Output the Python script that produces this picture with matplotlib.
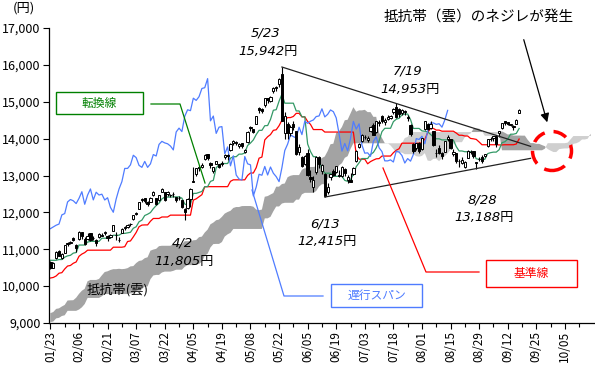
import numpy as np
import pandas as pd
import matplotlib
matplotlib.use('Agg')
import matplotlib.pyplot as plt
from matplotlib.patches import Rectangle, Ellipse
from matplotlib.lines import Line2D

plt.rcParams['font.family'] = ['Noto Sans CJK JP', 'DejaVu Sans']

# trading calendar (TSE 2013)
holidays = ['2013-02-11', '2013-03-20', '2013-04-29', '2013-05-03',
            '2013-05-06', '2013-07-15', '2013-09-16']
dates = pd.bdate_range('2013-01-23', '2013-09-19', freq='C', holidays=holidays)
future_labels = ['09/25', '10/05']

# Nikkei 225 daily OHLC, 2013/01/23 - 2013/09/19
opens = [10650, 10500, 10770, 10950, 10760, 10900, 11170, 11160, 11300, 11120,
         11280, 11470, 11280, 11280, 11450, 11300, 11250, 11330, 11400, 11450,
         11360, 11320, 11500, 11400, 11250, 11450, 11570, 11590, 11690, 11820,
         11970, 12100, 12350, 12380, 12270, 12280, 12470, 12380, 12330, 12560,
         12550, 12490, 12480, 12490, 12420, 12380, 12330, 12080, 12130, 12360,
         12850, 13050, 13240, 13230, 13450, 13570, 13340, 13120, 13320, 13300,
         13340, 13500, 13560, 13700, 13880, 13920, 13800, 13880, 13640, 13900,
         14310, 14250, 14400, 14820, 14800, 14900, 15100, 15030, 15300, 15400,
         15470, 15750, 14150, 14400, 14150, 14400, 14200, 13650, 13500, 13300,
         13600, 12970, 12700, 13100, 13500, 13120, 13050, 12560, 12950, 13130,
         13100, 13000, 12980, 13180, 12880, 12870, 13030, 13390, 13760, 13940,
         14050, 13960, 14200, 14380, 14170, 14440, 14620, 14440, 14520, 14560,
         14720, 14850, 14800, 14690, 14760, 14590, 14380, 13860, 13740, 13880,
         13710, 14250, 14410, 14290, 14200, 13620, 13740, 13600, 13650, 13980,
         13990, 13580, 13600, 13380, 13330, 13240, 13480, 13640, 13660, 13360,
         13440, 13510, 13520, 13800, 14000, 14020, 14060, 14160, 14300, 14470,
         14450, 14360, 14340, 14410, 14700]
highs = [10680, 10660, 10940, 10990, 10890, 11120, 11190, 11220, 11340, 11150,
         11498, 11480, 11320, 11440, 11450, 11370, 11270, 11440, 11450, 11500,
         11400, 11410, 11660, 11480, 11330, 11580, 11620, 11690, 11720, 11940,
         12020, 12290, 12380, 12390, 12300, 12420, 12570, 12400, 12470, 12650,
         12560, 12580, 12500, 12540, 12430, 12440, 12340, 12120, 12380, 12650,
         13225, 13210, 13280, 13330, 13590, 13580, 13360, 13240, 13400, 13320,
         13380, 13580, 13570, 13880, 13960, 13940, 13890, 13890, 13720, 14200,
         14330, 14270, 14620, 14850, 14830, 15100, 15110, 15160, 15390, 15420,
         15640, 15942, 14720, 14450, 14360, 14470, 14220, 13850, 13530, 13560,
         13710, 13140, 12980, 13530, 13540, 13320, 13060, 12790, 13040, 13170,
         13260, 13140, 13270, 13200, 13020, 13070, 13220, 13680, 13890, 14120,
         14100, 14060, 14340, 14420, 14490, 14500, 14640, 14550, 14630, 14630,
         14820, 14953, 14820, 14800, 14770, 14630, 14400, 13880, 13890, 13900,
         14030, 14480, 14420, 14470, 14220, 13720, 13830, 13640, 13940, 14100,
         14000, 13720, 13610, 13440, 13500, 13400, 13680, 13690, 13660, 13370,
         13500, 13550, 13590, 14000, 14050, 14080, 14070, 14210, 14430, 14480,
         14460, 14410, 14370, 14520, 14790]
lows = [10451, 10480, 10740, 10810, 10730, 10890, 11080, 11130, 11230, 10930,
        11250, 11290, 11120, 11260, 11230, 11240, 11100, 11310, 11350, 11400,
        11230, 11300, 11490, 11250, 11200, 11440, 11510, 11570, 11630, 11800,
        11930, 12080, 12280, 12260, 12180, 12270, 12450, 12190, 12310, 12540,
        12320, 12450, 12420, 12430, 12290, 12340, 12120, 11805, 12090, 12150,
        12830, 12990, 13130, 13210, 13430, 13430, 13210, 13060, 13310, 13200,
        13260, 13460, 13430, 13660, 13830, 13820, 13740, 13750, 13600, 13880,
        14210, 14150, 14390, 14700, 14700, 14870, 14960, 15000, 15250, 15290,
        15400, 14470, 13980, 13980, 14080, 14230, 13560, 13560, 13240, 13280,
        12990, 12830, 12550, 13050, 13210, 13040, 12415, 12500, 12880, 12990,
        13080, 12960, 12970, 12990, 12800, 12830, 13010, 13370, 13740, 13920,
        14000, 13920, 14170, 14100, 14150, 14340, 14430, 14380, 14500, 14530,
        14680, 14560, 14580, 14640, 14650, 14470, 14080, 13600, 13690, 13620,
        13700, 14230, 14230, 14260, 13810, 13510, 13580, 13450, 13640, 13940,
        13730, 13520, 13350, 13230, 13320, 13190, 13470, 13590, 13480, 13188,
        13390, 13350, 13490, 13760, 13930, 13940, 13760, 14050, 14260, 14380,
        14370, 14340, 14240, 14390, 14690]
closes = [10486, 10620, 10926, 10824, 10866, 11113, 11138, 11191, 11260, 11046,
          11463, 11357, 11153, 11369, 11251, 11307, 11173, 11407, 11372, 11468,
          11309, 11385, 11662, 11398, 11253, 11559, 11606, 11652, 11683, 11932,
          11968, 12283, 12349, 12314, 12239, 12381, 12560, 12220, 12468, 12635,
          12338, 12546, 12471, 12493, 12336, 12397, 12135, 12003, 12362, 12634,
          12833, 13192, 13192, 13288, 13549, 13485, 13275, 13221, 13382, 13220,
          13316, 13568, 13529, 13843, 13926, 13884, 13860, 13799, 13694, 14180,
          14285, 14191, 14607, 14782, 14758, 15096, 15037, 15138, 15360, 15381,
          15627, 14483, 14612, 14142, 14311, 14326, 13589, 13775, 13262, 13534,
          13014, 12904, 12877, 13514, 13317, 13289, 12445, 12686, 13033, 13007,
          13245, 13014, 13230, 13062, 12969, 12834, 13213, 13677, 13852, 14099,
          14055, 14018, 14309, 14109, 14472, 14416, 14472, 14506, 14599, 14615,
          14808, 14589, 14658, 14778, 14731, 14562, 14129, 13661, 13869, 13668,
          14005, 14466, 14258, 14401, 13824, 13605, 13615, 13519, 13925, 14050,
          13752, 13650, 13397, 13396, 13424, 13366, 13660, 13636, 13542, 13338,
          13459, 13389, 13572, 14000, 13978, 14065, 13861, 14205, 14423, 14425,
          14387, 14404, 14311, 14505, 14766]

# highs / lows of the 77 sessions before 01/23 (2012/09/26 - 2013/01/22)
pre_high = [8950, 8960, 8960, 8860, 8830, 8790, 8840, 8880, 8840, 8700,
            8620, 8580, 8600, 8710, 8820, 9000, 9040, 9030, 9000, 8970,
            9030, 9030, 8960, 8970, 8940, 8970, 9060, 9030, 9000, 9020,
            8880, 8800, 8760, 8700, 8700, 8850, 9040, 9180, 9230, 9250,
            9370, 9440, 9450, 9390, 9410, 9480, 9480, 9460, 9480, 9560,
            9550, 9560, 9540, 9590, 9760, 9790, 9890, 9930, 10170, 10150,
            9990, 10090, 10240, 10340, 10430, 10740, 10630, 10560, 10590, 10680,
            10830, 10950, 10760, 10640, 10930, 10850, 10790]
pre_low = [8880, 8860, 8850, 8780, 8760, 8720, 8770, 8820, 8760, 8590,
           8540, 8490, 8510, 8600, 8760, 8870, 8960, 8950, 8920, 8900,
           8960, 8920, 8880, 8830, 8840, 8890, 8990, 8950, 8940, 8950,
           8820, 8740, 8660, 8620, 8640, 8640, 8880, 9080, 9110, 9110,
           9240, 9350, 9330, 9290, 9330, 9410, 9420, 9400, 9390, 9500,
           9480, 9480, 9490, 9520, 9600, 9710, 9740, 9810, 9990, 10020,
           9900, 9970, 10120, 10240, 10320, 10560, 10530, 10460, 10510, 10580,
           10730, 10830, 10580, 10500, 10740, 10720, 10600]

n = len(closes)
assert len(dates) == n == len(opens) == len(highs) == len(lows)
npre = len(pre_high)
shift = 25

# ichimoku lines
hi = pd.Series(pre_high + highs, dtype=float)
lo = pd.Series(pre_low + lows, dtype=float)
mid = lambda w: (hi.rolling(w).max() + lo.rolling(w).min()) / 2
tenkan_all = mid(9)
kijun_all = mid(26)
spanb_all = mid(52)
tenkan = tenkan_all.values[npre:]
kijun = kijun_all.values[npre:]
xs_span = np.arange(0, n + shift)
span_a = ((tenkan_all + kijun_all) / 2).values[npre - shift:]
span_b = spanb_all.values[npre - shift:]
x = np.arange(n)
chikou = np.array(closes[shift:], dtype=float)

W, H = 595, 365
fig = plt.figure(figsize=(W / 100, H / 100), dpi=100)
ax = fig.add_axes([49 / W, 1 - 323 / H, (594 - 49) / W, (323 - 28) / H])

# cloud
ax.fill_between(xs_span, span_a, span_b, where=span_a >= span_b,
                color='#a3a3a3', lw=0, interpolate=True, zorder=1)
ax.fill_between(xs_span, span_a, span_b, where=span_a < span_b,
                color='#cfcfcf', lw=0, interpolate=True, zorder=1)

ax.plot(x, kijun, color='#ff0000', lw=0.9, zorder=2)
ax.plot(x, tenkan, color='#339966', lw=0.9, zorder=2)
ax.plot(np.arange(len(chikou)), chikou, color='#4f7cff', lw=0.9, zorder=2)

# candles
o = np.array(opens); c = np.array(closes)
up = c >= o
ax.vlines(x, lows, highs, color='black', lw=0.8, zorder=3)
ax.bar(x[up], (c - o)[up], bottom=o[up], width=0.8, facecolor='white',
       edgecolor='black', lw=0.7, zorder=4)
ax.bar(x[~up], (o - c)[~up], bottom=c[~up], width=0.8, facecolor='black',
       edgecolor='black', lw=0.7, zorder=4)

# triangle lines
labels = [d.strftime('%m/%d') for d in dates]
def trend(d1, v1, d2, v2, x_end=168):
    i1, i2 = labels.index(d1), labels.index(d2)
    s = (v2 - v1) / (i2 - i1)
    ax.plot([i1, x_end], [v1, v1 + s * (x_end - i1)], color='#222222', lw=0.9, zorder=5)
i_top1, i_top2 = labels.index('05/23'), labels.index('07/19')
i_bot1, i_bot2 = labels.index('06/13'), labels.index('08/28')
trend('05/23', highs[i_top1], '07/19', highs[i_top2])
trend('06/13', lows[i_bot1], '08/28', lows[i_bot2])

# axes
ax.set_xlim(-0.5, 190.2)
ax.set_ylim(9000, 17000)
ax.set_yticks(range(9000, 17001, 1000))
ax.set_yticklabels([f'{v:,}' for v in range(9000, 17001, 1000)], fontsize=9)
ticks = list(range(0, 181, 10))
tick_text = [labels[t] if t < n else future_labels[(t - 170) // 10] for t in ticks]
ax.set_xticks(ticks)
ax.set_xticklabels(tick_text, rotation=90, fontsize=8.5)
ax.set_xticks(range(5, 190, 10), minor=True)
ax.tick_params(axis='both', direction='out', length=4, width=0.8, pad=2)
ax.tick_params(axis='x', which='minor', length=3, width=0.8)
for s in ['top', 'right']:
    ax.spines[s].set_visible(False)
ax.spines['left'].set_linewidth(0.9)
ax.spines['bottom'].set_linewidth(0.9)

def fx(px): return px / W
def fy(py): return 1 - py / H

num = dict(family=['DejaVu Sans', 'Noto Sans CJK JP'], style='italic',
           fontsize=9.5, ha='center', va='center')
def note(cx, cy, d, v):
    fig.text(fx(cx), fy(cy), d.lstrip('0').replace('/0', '/'), **num)
    fig.text(fx(cx + 2), fy(cy + 18), f'{v:,}円', **num)
note(266, 33, '05/23', highs[i_top1])
note(408, 71, '07/19', highs[i_top2])
note(325, 224, '06/13', lows[i_bot1])
note(482, 200, '08/28', lows[i_bot2])
i_apr = labels.index('04/02')
note(182, 243, '04/02', lows[i_apr])

fig.text(fx(24), fy(8), '(円)', fontsize=9.5, ha='center', va='center')
fig.text(fx(118), fy(290), '抵抗帯(雲)', fontsize=9.5, ha='center', va='center')
fig.text(fx(479), fy(18), '抵抗帯（雲）のネジレが発生', fontsize=10.5,
         ha='center', va='center')

def callout(x0, y0, x1, y1, text, col, path):
    fig.add_artist(Rectangle((fx(x0), fy(y1)), (x1 - x0) / W, (y1 - y0) / H,
                             transform=fig.transFigure, facecolor='white',
                             edgecolor=col, lw=1.0))
    fig.text(fx((x0 + x1) / 2), fy((y0 + y1) / 2), text, color=col,
             fontsize=8.5, ha='center', va='center')
    px, py = zip(*path)
    fig.add_artist(Line2D([fx(p) for p in px], [fy(p) for p in py],
                          transform=fig.transFigure, color=col, lw=0.9))

callout(56, 92, 143, 114, '転換線', '#008000', [(151, 104), (180, 104), (205, 183)])
callout(331, 284, 422, 307, '遅行スパン', '#4f7cff', [(252, 190), (284, 296), (323, 296)])
callout(486, 260, 577, 287, '基準線', '#ff0000', [(383, 168), (426, 272), (479, 272)])

fig.add_artist(Ellipse((fx(552), fy(151)), 39 / W, 39 / H, transform=fig.transFigure,
                       fill=False, edgecolor='#ff0000', lw=2.5, linestyle=(0, (4, 2.6))))
ax.annotate('', xy=(fx(548), fy(125)), xytext=(fx(523), fy(37)),
            xycoords='figure fraction', textcoords='figure fraction',
            arrowprops=dict(arrowstyle='-|>', color='black', lw=0.9, mutation_scale=13))

fig.savefig('out.png', dpi=100)
